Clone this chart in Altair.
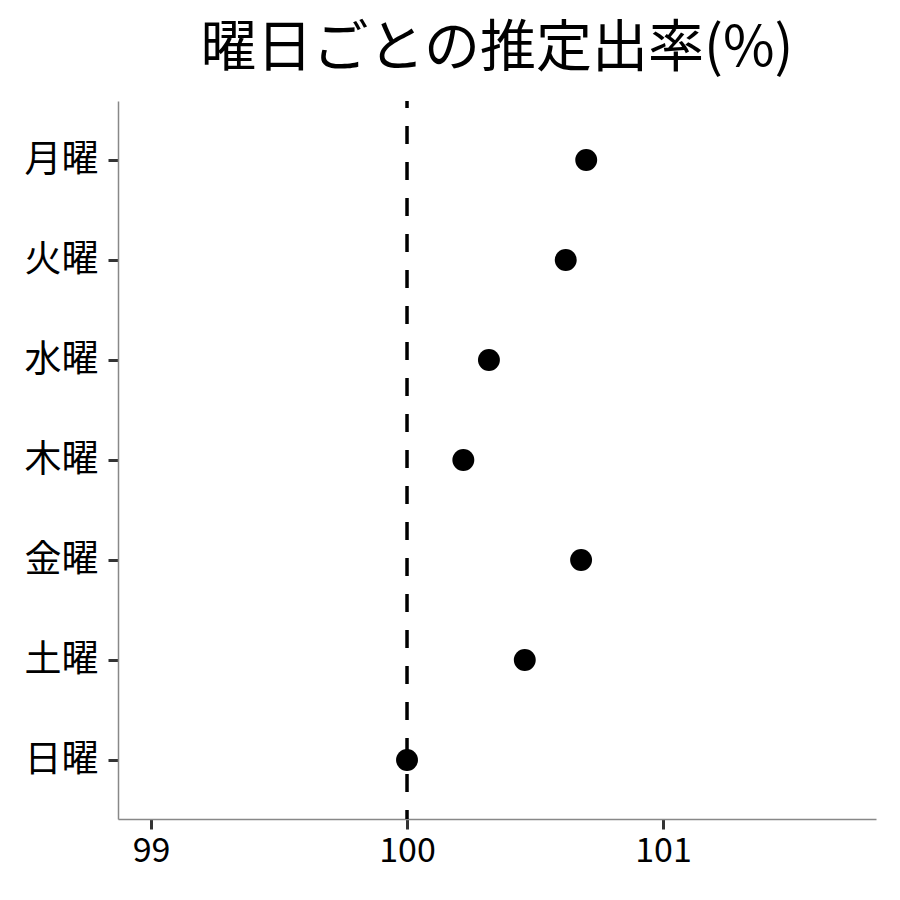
import altair as alt
import pandas as pd

days = ["月曜", "火曜", "水曜", "木曜", "金曜", "土曜", "日曜"]
rates = [100.70, 100.62, 100.32, 100.22, 100.68, 100.46, 100.00]
x_ticks = [99, 100, 101]
ref_value = [100]

df = pd.DataFrame({"day": days, "rate": rates})
ref = pd.DataFrame({"v": ref_value})

FONT = "Noto Sans CJK JP"

xscale = alt.Scale(domain=[98.871, 101.832], nice=False, zero=False)

rule = alt.Chart(ref).mark_rule(color="black", strokeWidth=3.5, strokeDash=[18, 18],
                                strokeDashOffset=11).encode(
    x=alt.X("v:Q", scale=xscale)
)

points = alt.Chart(df).mark_point(filled=True, color="black", size=480, opacity=1).encode(
    x=alt.X("rate:Q", scale=xscale,
            axis=alt.Axis(values=x_ticks, format="d", title=None, grid=False, labelFontSize=34,
                          labelPadding=5, labelColor="black", labelFont=FONT)),
    y=alt.Y("day:N", sort=days, scale=alt.Scale(type="point", padding=0.59),
            axis=alt.Axis(title=None, grid=False, labelFontSize=37, labelPadding=10,
                          labelColor="black", labelFont=FONT)),
)

chart = (rule + points).properties(
    width=758,
    height=718,
    padding={"left": 110, "top": 93, "right": 16, "bottom": 70},
    autosize=alt.AutoSizeParams(type="none"),
    title=alt.TitleParams("曜日ごとの推定出率(%)", font=FONT, fontSize=56, fontWeight="normal",
                          anchor="middle", baseline="bottom", offset=18, dy=53, color="black"),
).configure_view(stroke=None).configure_axis(
    domainColor="#888888", domainWidth=1.5, tickColor="#333333", tickWidth=3, tickSize=10,
)

chart.save("out.html", embed_options={"renderer": "svg", "actions": False})
